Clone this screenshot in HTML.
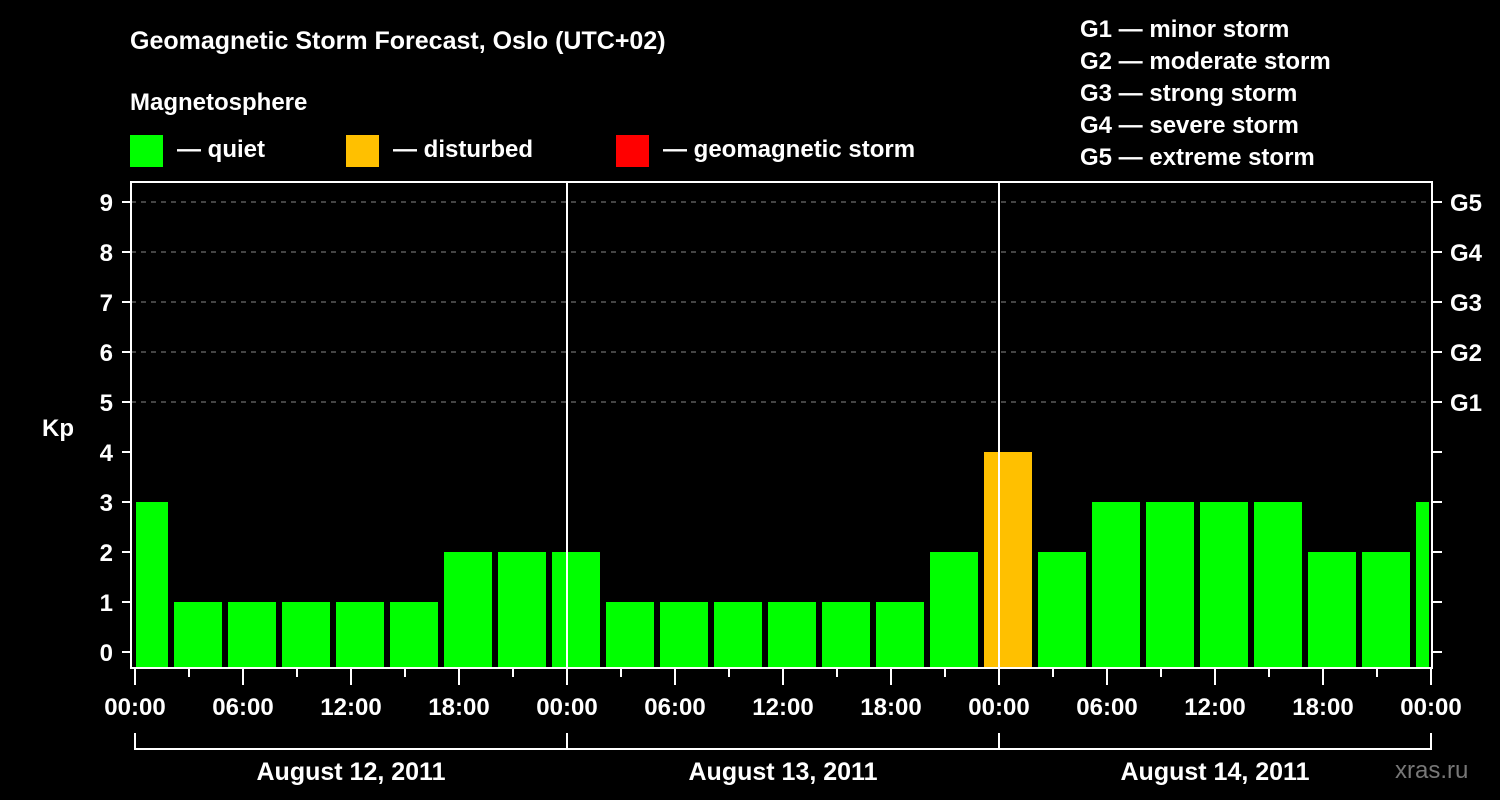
<!DOCTYPE html>
<html><head><meta charset="utf-8"><style>
html,body{margin:0;padding:0;background:#000;}
svg{display:block;font-family:"Liberation Sans",Arial,sans-serif;font-weight:bold;}
</style></head><body>
<svg id="chart" width="1500" height="800" viewBox="0 0 1500 800">
<rect width="1500" height="800" fill="#000"/>
<text x="130" y="49" font-size="25" fill="#fff">Geomagnetic Storm Forecast, Oslo (UTC+02)</text>
<text x="130" y="110" font-size="24" fill="#fff">Magnetosphere</text>
<g><rect x="130" y="135" width="33" height="32" fill="#00ff00"/><text x="177" y="157" font-size="24" fill="#fff">— quiet</text></g>
<g><rect x="346" y="135" width="33" height="32" fill="#ffc000"/><text x="393" y="157" font-size="24" fill="#fff">— disturbed</text></g>
<g><rect x="616" y="135" width="33" height="32" fill="#ff0000"/><text x="663" y="157" font-size="24" fill="#fff">— geomagnetic storm</text></g>
<g font-size="24" fill="#fff">
<text x="1080" y="37">G1 — minor storm</text>
<text x="1080" y="69">G2 — moderate storm</text>
<text x="1080" y="101">G3 — strong storm</text>
<text x="1080" y="133">G4 — severe storm</text>
<text x="1080" y="165">G5 — extreme storm</text>
</g>
<text x="42" y="436" font-size="24" fill="#fff">Kp</text>
<text x="1395" y="778" font-size="24" fill="#777" font-weight="normal">xras.ru</text>
<g id="plot"></g>
</svg>
<script>
const kpValues = [3,1,1,1,1,1,2,2,2,1,1,1,1,1,1,2,4,2,3,3,3,3,2,2,3];
const barStartHours = [-1,2,5,8,11,14,17,20,23,26,29,32,35,38,41,44,47,50,53,56,59,62,65,68,71];
const yTicks = [0,1,2,3,4,5,6,7,8,9];
const gLabels = ['G1','G2','G3','G4','G5'];
const gLevels = [5,6,7,8,9];
const xTickLabels = ['00:00','06:00','12:00','18:00','00:00','06:00','12:00','18:00','00:00','06:00','12:00','18:00','00:00'];
const dayLabels = ['August 12, 2011','August 13, 2011','August 14, 2011'];

const NS='http://www.w3.org/2000/svg';
const plot=document.getElementById('plot');
const X0=135, PXH=18, Y0=652, PXK=50, TOP=182, BOT=668, LEFT=131, RIGHT=1432;
const xs=h=>X0+h*PXH, ys=v=>Y0-v*PXK;
function mk(tag,a,p){const e=document.createElementNS(NS,tag);for(const k in a)e.setAttribute(k,a[k]);(p||plot).appendChild(e);return e;}

// grid
for(const v of yTicks){
  if(v>=5){const g=mk('line',{x1:LEFT,x2:RIGHT,y1:ys(v),y2:ys(v),stroke:'#888','stroke-dasharray':'5,5','stroke-width':1});
  
  }
}
// bars
kpValues.forEach((v,i)=>{
  let x1=xs(barStartHours[i])+3, x2=xs(barStartHours[i])+51;
  x1=Math.max(x1,136); x2=Math.min(x2,1429);
  const r=mk('rect',{x:x1,y:ys(v),width:x2-x1,height:BOT-ys(v),fill:v>=5?'#ff0000':(v>=4?'#ffc000':'#00ff00')});
  
  
});
// day separators
for(const d of [1,2]){const l=mk('line',{x1:xs(d*24),x2:xs(d*24),y1:TOP,y2:BOT,stroke:'#fff','stroke-width':2});

}
// frame
const fr=mk('rect',{x:LEFT,y:TOP,width:RIGHT-LEFT,height:BOT-TOP,fill:'none',stroke:'#fff','stroke-width':2});


// y ticks
for(const v of yTicks){
  mk('line',{x1:122,x2:LEFT,y1:ys(v),y2:ys(v),stroke:'#fff','stroke-width':2});
  mk('line',{x1:RIGHT,x2:1442,y1:ys(v),y2:ys(v),stroke:'#fff','stroke-width':2});
  const t=mk('text',{x:113,y:ys(v)+9,'text-anchor':'end','font-size':24,fill:'#fff'});t.textContent=v;
  
  
}
gLabels.forEach((g,i)=>{const t=mk('text',{x:1450,y:ys(gLevels[i])+9,'font-size':24,fill:'#fff'});t.textContent=g;
  
  });
// x ticks
for(let h=0;h<=72;h+=3){const major=h%6===0;mk('line',{x1:xs(h),x2:xs(h),y1:BOT,y2:major?685:677,stroke:'#fff','stroke-width':2});}
xTickLabels.forEach((s,i)=>{const t=mk('text',{x:xs(i*6),y:715,'text-anchor':'middle','font-size':24,fill:'#fff'});t.textContent=s;
  
  });
// day bracket
mk('line',{x1:xs(0),x2:xs(72),y1:749,y2:749,stroke:'#fff','stroke-width':2});
for(let d=0;d<=3;d++)mk('line',{x1:xs(d*24),x2:xs(d*24),y1:733,y2:750,stroke:'#fff','stroke-width':2});
dayLabels.forEach((s,i)=>{const t=mk('text',{x:xs(i*24+12),y:780,'text-anchor':'middle','font-size':25,fill:'#fff'});t.textContent=s;
  
  });
</script>
</body></html>
